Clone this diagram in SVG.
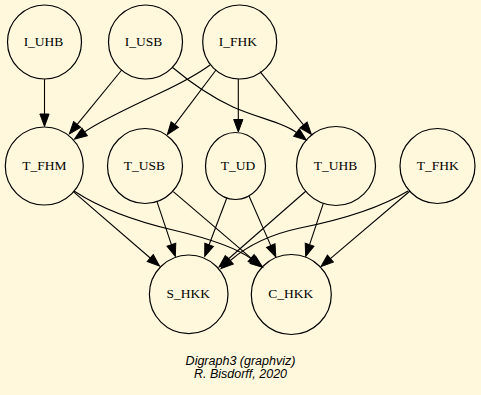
<svg xmlns="http://www.w3.org/2000/svg" width="481" height="395" viewBox="0 0 481 395">
  <style>
    .node { fill: none; stroke: #000; stroke-width: 1.2; }
    .lbl { font-family: "Liberation Serif", "Times New Roman", serif; font-size: 13.5px; fill: #000; text-anchor: middle; }
    .edge { fill: none; stroke: #000; stroke-width: 1.1; marker-end: url(#arr); }
    .caption { font-family: "Liberation Sans", Arial, sans-serif; font-style: italic; font-size: 12.5px; fill: #000; text-anchor: middle; }
  </style>
  <defs>
    <marker id="arr" markerUnits="userSpaceOnUse" markerWidth="16" markerHeight="12" viewBox="-1 -6 16 12" refX="0" refY="0" orient="auto">
      <path d="M0,-4.6 L12.4,0 L0,4.6 z" fill="#000" stroke="#000" stroke-width="1"/>
    </marker>
  </defs>
  <rect x="0" y="0" width="481" height="395" fill="#fff8dc"/>

  <!-- connectors: each path ends at the arrow base, the marker draws the head -->
  <g id="edges">
    <path class="edge" d="M44.5,79.2 L44.5,114"/>
    <path class="edge" d="M121.7,70 L77.2,124.4"/>
    <path class="edge" d="M210,65 C195,76 175,86 160,93 C130,107 100,121 84.6,131.9"/>
    <path class="edge" d="M216,70 L174.8,124.6"/>
    <path class="edge" d="M238.3,79 L238.3,119.5"/>
    <path class="edge" d="M260,71.7 L303.5,124.9"/>
    <path class="edge" d="M172,67 C185,78 205,94 233,107 C260,119 283,122 296.5,132.5"/>
    <path class="edge" d="M73.3,191.7 L150.2,258"/>
    <path class="edge" d="M74,191 C100,208 130,220 173,230 C205,237.5 236,247 252.9,259.9"/>
    <path class="edge" d="M157,201.7 L171.4,244.7"/>
    <path class="edge" d="M173.3,191.7 L251.1,258.1"/>
    <path class="edge" d="M226.7,198.3 L209.1,244.8"/>
    <path class="edge" d="M249,196 L270.8,245.6"/>
    <path class="edge" d="M306,191 L228.3,259"/>
    <path class="edge" d="M323.3,203.3 L309.6,244.7"/>
    <path class="edge" d="M410,191 L330.4,258.6"/>
    <path class="edge" d="M408,191 C380,208 340,220 300,228 C267,235 247,246 230.3,260.5"/>
  </g>

  <g id="node_I_UHB">
    <circle class="node" cx="44.5" cy="42" r="37"/>
    <text class="lbl" x="43.5" y="46.4">I_UHB</text>
  </g>
  <g id="node_I_USB">
    <circle class="node" cx="145.5" cy="42" r="37"/>
    <text class="lbl" x="143.5" y="46.4">I_USB</text>
  </g>
  <g id="node_I_FHK">
    <circle class="node" cx="239.7" cy="42" r="37"/>
    <text class="lbl" x="237.8" y="46.4">I_FHK</text>
  </g>
  <g id="node_T_FHM">
    <circle class="node" cx="44.3" cy="166" r="39"/>
    <text class="lbl" x="44.3" y="170.4">T_FHM</text>
  </g>
  <g id="node_T_USB">
    <circle class="node" cx="145" cy="166" r="37.5"/>
    <text class="lbl" x="144.5" y="170.4">T_USB</text>
  </g>
  <g id="node_T_UD">
    <ellipse class="node" cx="235.5" cy="166" rx="30" ry="33.5"/>
    <text class="lbl" x="238" y="170.4">T_UD</text>
  </g>
  <g id="node_T_UHB">
    <circle class="node" cx="336" cy="166" r="39.5"/>
    <text class="lbl" x="335.5" y="170.4">T_UHB</text>
  </g>
  <g id="node_T_FHK">
    <circle class="node" cx="437.5" cy="166" r="37.5"/>
    <text class="lbl" x="437.8" y="170.4">T_FHK</text>
  </g>
  <g id="node_S_HKK">
    <circle class="node" cx="188.7" cy="294.3" r="39.3"/>
    <text class="lbl" x="188.3" y="298">S_HKK</text>
  </g>
  <g id="node_C_HKK">
    <circle class="node" cx="291.3" cy="294.5" r="40"/>
    <text class="lbl" x="290.8" y="298">C_HKK</text>
  </g>

  <g id="caption">
    <text class="caption" x="240.5" y="364.5">Digraph3 (graphviz)</text>
    <text class="caption" x="240.5" y="377.8">R. Bisdorff, 2020</text>
  </g>
</svg>
